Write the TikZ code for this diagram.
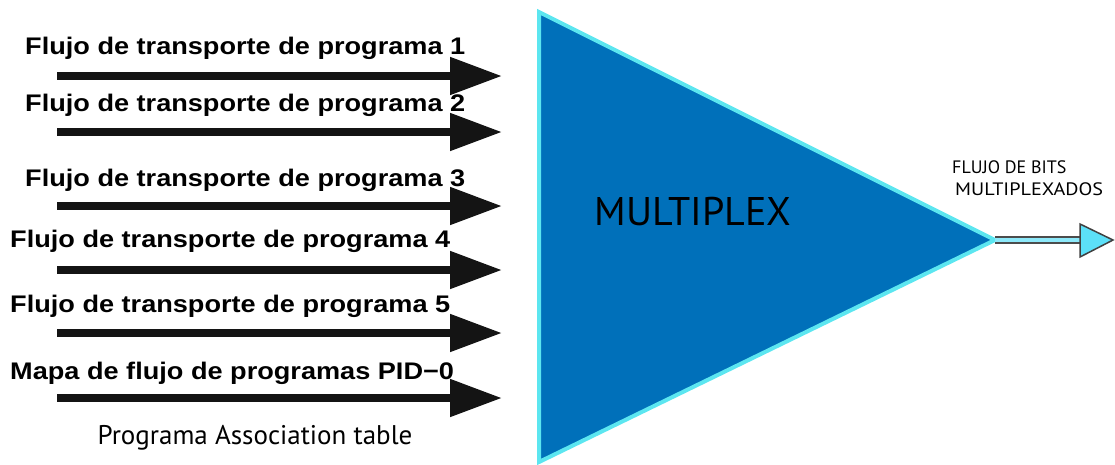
\documentclass[tikz,border=0pt]{standalone}
\usepackage{fontspec}
\setmainfont{PT Sans}
\newfontfamily\labelfont[FakeStretch=1.13]{Liberation Sans}
\usetikzlibrary{arrows.meta}
\definecolor{muxblue}{HTML}{0070BA}
\definecolor{muxedge}{HTML}{5CE6F0}
\definecolor{outcyan}{HTML}{5CE0F8}
\begin{document}
\begin{tikzpicture}[x=1pt,y=-1pt,
	inarrow/.style={line width=8pt,black!92,-{Triangle[length=52pt,width=36pt]}},
	flowlabel/.style={anchor=west,font=\labelfont\fontsize{24}{24}\selectfont\bfseries,inner sep=0pt}]
	\useasboundingbox (0,0) rectangle (1115,464);
	% multiplexer body
	\coordinate (mtop) at (539,12);
	\coordinate (mbot) at (539,462);
	\coordinate (mtip) at (995,240);
	\draw [line width=4pt,muxedge,fill=muxblue,line join=miter] (mtop) -- (mtip) -- (mbot) -- cycle;
	\node (mux) at (693,212) {\fontsize{40}{40}\selectfont MULTIPLEX};
	% input streams
	\node [flowlabel] (l1) at (25,48) {Flujo de transporte de programa 1};
	\node [flowlabel] (l2) at (25,105) {Flujo de transporte de programa 2};
	\node [flowlabel] (l3) at (25,180) {Flujo de transporte de programa 3};
	\node [flowlabel] (l4) at (10,241) {Flujo de transporte de programa 4};
	\node [flowlabel] (l5) at (10,306) {Flujo de transporte de programa 5};
	\node [flowlabel] (l6) at (10,373) {Mapa de flujo de programas PID−0};
	\node (pat) at (255,438) {\fontsize{27}{27}\selectfont Programa Association table};
	\coordinate (s1) at (57,76);  \coordinate (e1) at (502,76);
	\coordinate (s2) at (57,132); \coordinate (e2) at (502,132);
	\coordinate (s3) at (57,206); \coordinate (e3) at (502,206);
	\coordinate (s4) at (57,270); \coordinate (e4) at (502,270);
	\coordinate (s5) at (57,333); \coordinate (e5) at (502,333);
	\coordinate (s6) at (57,398); \coordinate (e6) at (502,398);
	\draw [inarrow] (s1) -- (e1);
	\draw [inarrow] (s2) -- (e2);
	\draw [inarrow] (s3) -- (e3);
	\draw [inarrow] (s4) -- (e4);
	\draw [inarrow] (s5) -- (e5);
	\draw [inarrow] (s6) -- (e6);
	% output
	\coordinate (out) at (1113,240);
	\draw [line width=8pt,black!70] (mtip) -- (1082,240);
	\draw [line width=4pt,outcyan!70] (mtip) -- (1082,240);
	\draw [fill=outcyan,draw=black!75,line width=1.5pt] (1080,224) -- (out) -- (1080,257) -- cycle;
	\node [align=left,inner sep=0pt,anchor=north west,font=\fontsize{18}{23}\selectfont] (bits) at (952,160) {FLUJO DE BITS\\[-1pt] \,\addfontfeature{FakeStretch=1.12}MULTIPLEXADOS};
\end{tikzpicture}
\end{document}
